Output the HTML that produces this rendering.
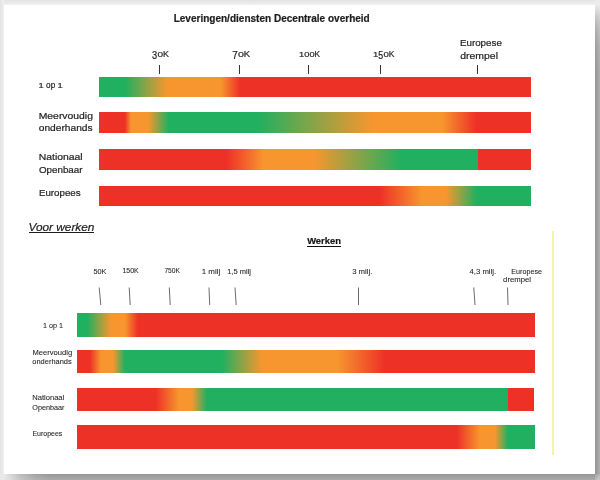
<!DOCTYPE html>
<html><head><meta charset="utf-8">
<style>
html,body{margin:0;padding:0;}
body{width:600px;height:480px;overflow:hidden;position:relative;background:#e9e9e9;font-family:"Liberation Sans",sans-serif;color:#2a2a2a;}
#st{position:absolute;left:0;top:0;width:600px;height:5px;background:linear-gradient(to bottom,#e3e3e3 0,#e9e9e9 50%,#f1f1f1 100%);}
#sl{position:absolute;left:0;top:0;width:4px;height:480px;background:linear-gradient(to right,#e3e3e3 0,#e9e9e9 50%,#f1f1f1 100%);}
#sr{position:absolute;left:594.8px;top:0;width:5.2px;height:480px;background:linear-gradient(to right,#939393 0,#afafaf 100%);}
#srm{position:absolute;left:594.8px;top:0;width:5.2px;height:480px;background:linear-gradient(to bottom,#ebebeb 0,#ebebeb 5px,rgba(235,235,235,0.85) 9px,rgba(235,235,235,0.5) 19px,rgba(235,235,235,0.25) 31px,rgba(235,235,235,0.09) 48px,rgba(235,235,235,0) 72px);}
#sb{position:absolute;left:0;top:473.8px;width:600px;height:6.2px;background:linear-gradient(to bottom,#969696 0,#a2a2a2 50%,#a9a9a9 100%);}
#sbm{position:absolute;left:0;top:473.8px;width:594.8px;height:6.2px;background:linear-gradient(to right,#e9e9e9 0,#e9e9e9 4px,rgba(233,233,233,0.8) 10px,rgba(233,233,233,0.45) 20px,rgba(233,233,233,0.15) 35px,rgba(233,233,233,0) 50px);}
#page{position:absolute;left:4px;top:4.8px;width:590.8px;height:469px;background:#fff;}
.bar{position:absolute;}
.t{position:absolute;white-space:nowrap;transform-origin:0 0;line-height:1;}
.tick{position:absolute;width:1.3px;background:#363636;}
svg{position:absolute;left:0;top:0;}
</style></head><body>
<div id="st"></div><div id="sl"></div>
<div id="sb"></div><div id="sbm"></div>
<div id="sr"></div><div id="srm"></div>
<div style="position:absolute;left:594.8px;top:473.8px;width:5.2px;height:6.2px;background:linear-gradient(135deg,#a0a0a0 0,#bdbdbd 60%,#c6c6c6 100%);"></div>
<div id="page"></div>

<div class="t" style="left:0;top:0;transform:translate(173.63px,12.78px) scaleX(0.9548);font-size:10.5px;font-weight:bold;color:#1c1c1c;">Leveringen/diensten Decentrale overheid</div>
<div class="t" style="left:0;top:0;transform:translate(152.04px,48.95px) scaleX(0.9276);font-size:9.6px;"><span class="od">3</span><span class="os">0</span>K</div>
<div class="t" style="left:0;top:0;transform:translate(232.17px,48.95px) scaleX(0.9879);font-size:9.6px;"><span class="od">7</span><span class="os">0</span>K</div>
<div class="t" style="left:0;top:0;transform:translate(299.09px,48.95px) scaleX(0.8546);font-size:9.6px;"><span class="os os3">100</span>K</div>
<div class="t" style="left:0;top:0;transform:translate(372.91px,48.95px) scaleX(0.8856);font-size:9.6px;"><span class="os">1</span><span class="od">5</span><span class="os">0</span>K</div>
<div class="t" style="left:0;top:0;transform:translate(459.96px,38.01px) scaleX(1.0192);font-size:9.6px;">Europese</div>
<div class="t" style="left:0;top:0;transform:translate(460.28px,50.92px) scaleX(1.0883);font-size:9.6px;">drempel</div>
<div class="t" style="left:0;top:0;transform:translate(38.58px,79.84px) scaleX(0.8547);font-size:9.6px;"><span class="os">1</span> op <span class="os">1</span></div>
<div class="t" style="left:0;top:0;transform:translate(38.69px,110.81px) scaleX(1.0822);font-size:9.6px;">Meervoudig</div>
<div class="t" style="left:0;top:0;transform:translate(38.74px,123.45px) scaleX(1.0639);font-size:9.6px;">onderhands</div>
<div class="t" style="left:0;top:0;transform:translate(38.71px,151.75px) scaleX(1.0837);font-size:9.6px;">Nationaal</div>
<div class="t" style="left:0;top:0;transform:translate(38.97px,164.60px) scaleX(1.0203);font-size:9.6px;">Openbaar</div>
<div class="t" style="left:0;top:0;transform:translate(38.91px,188.36px) scaleX(1.0147);font-size:9.6px;">Europees</div>
<div class="t" style="left:0;top:0;transform:translate(28.55px,221.55px) scaleX(1.0260);font-size:11.5px;font-style:italic;color:#1c1c1c;">Voor werken</div>
<div class="t" style="left:0;top:0;transform:translate(307.14px,237.25px) scaleX(1.0120);font-size:9.3px;font-weight:bold;color:#111;">Werken</div>
<div class="t s" style="left:0;top:0;transform:translate(93.44px,267.65px) scaleX(1.0499);">50K</div>
<div class="t s" style="left:0;top:0;transform:translate(122.47px,267.31px) scaleX(0.9937);">150K</div>
<div class="t s" style="left:0;top:0;transform:translate(164.41px,267.33px) scaleX(0.9538);">750K</div>
<div class="t s" style="left:0;top:0;transform:translate(201.72px,267.66px) scaleX(1.1356);">1 milj</div>
<div class="t s" style="left:0;top:0;transform:translate(227.34px,267.87px) scaleX(1.0664);">1,5 milj</div>
<div class="t s" style="left:0;top:0;transform:translate(352.14px,267.77px) scaleX(1.1097);">3 milj.</div>
<div class="t s" style="left:0;top:0;transform:translate(469.50px,267.64px) scaleX(1.1050);">4,3 milj.</div>
<div class="t s" style="left:0;top:0;transform:translate(511.33px,267.76px) scaleX(1.0217);">Europese</div>
<div class="t s" style="left:0;top:0;transform:translate(503.08px,276.45px) scaleX(1.1063);">drempel</div>
<div class="t s" style="left:0;top:0;transform:translate(43.09px,321.79px) scaleX(1.0275);">1 op 1</div>
<div class="t s" style="left:0;top:0;transform:translate(32.47px,348.91px) scaleX(1.0838);">Meervoudig</div>
<div class="t s" style="left:0;top:0;transform:translate(32.31px,358.07px) scaleX(1.0656);">onderhands</div>
<div class="t s" style="left:0;top:0;transform:translate(32.18px,393.57px) scaleX(1.0853);">Nationaal</div>
<div class="t s" style="left:0;top:0;transform:translate(32.33px,403.60px) scaleX(1.0338);">Openbaar</div>
<div class="t s" style="left:0;top:0;transform:translate(32.41px,430.45px) scaleX(0.9985);">Europees</div>
<div style="position:absolute;left:29.10px;top:231.85px;width:65.20px;height:0.90px;background:#1c1c1c;"></div>
<div style="position:absolute;left:306.70px;top:245.75px;width:34.35px;height:0.90px;background:#111;"></div>
<!-- top ticks -->
<div class="tick" style="left:158.7px;top:64.5px;height:9.3px;"></div>
<div class="tick" style="left:238.8px;top:64.5px;height:9.3px;"></div>
<div class="tick" style="left:308px;top:64.5px;height:9.3px;"></div>
<div class="tick" style="left:380px;top:64.5px;height:9.3px;"></div>
<div class="tick" style="left:476.5px;top:64.5px;height:9.3px;"></div>

<div class="bar" id="b1" style="left:99.2px;top:76.5px;width:431.6px;height:20px;"></div>
<div class="bar" id="b2" style="left:99.2px;top:112.3px;width:431.6px;height:20.7px;"></div>
<div class="bar" id="b3" style="left:99.2px;top:148.75px;width:431.6px;height:21.1px;"></div>
<div class="bar" id="b4" style="left:99.2px;top:186.2px;width:431.6px;height:20.1px;"></div>

<svg width="600" height="480" viewBox="0 0 600 480">
<g stroke="#505050" stroke-width="0.85" fill="none">
<line x1="99.2" y1="287.5" x2="100.8" y2="305"/>
<line x1="129.2" y1="287.5" x2="130.2" y2="305"/>
<line x1="169.3" y1="287.5" x2="170.2" y2="305"/>
<line x1="209" y1="287.5" x2="209.7" y2="305"/>
<line x1="235" y1="287.5" x2="236.2" y2="305"/>
<line x1="358.5" y1="287.5" x2="358.5" y2="305"/>
<line x1="473.8" y1="287.5" x2="475" y2="305"/>
<line x1="507.5" y1="287.5" x2="508" y2="305"/>
</g>
<rect x="552.2" y="231" width="1.7" height="224" fill="#f3f68c"/>
</svg>

<div class="bar" id="e1" style="left:76.8px;top:312.5px;width:458.2px;height:24.25px;"></div>
<div class="bar" id="e2" style="left:76.8px;top:349.5px;width:458.2px;height:23.75px;"></div>
<div class="bar" id="e3" style="left:76.8px;top:387.5px;width:457.5px;height:23.3px;"></div>
<div class="bar" id="e4" style="left:76.8px;top:425.1px;width:458.2px;height:23.7px;"></div>

<style>
.t{filter:blur(0.4px);color:#262626;-webkit-text-stroke:0.22px #262626;}
.s{font-size:7px;color:#262626;-webkit-text-stroke:0.08px #262626;}
.os{display:inline-block;font-size:8.1px;transform:scaleX(1.34);transform-origin:0 100%;margin-right:0.2em;-webkit-text-stroke:0.2px #262626;}
.os3{margin-right:0.57em;}
.od{position:relative;top:2px;font-size:10px;}
:root{--g:#20b060;--r:#ee3127;--o:#f7962e;}
#b1{background:linear-gradient(to right,var(--g) 0,var(--g) 26px,var(--o) 68px,var(--o) 122px,var(--r) 141px,var(--r) 100%);}
#b2{background:linear-gradient(to right,var(--r) 0,var(--r) 26px,var(--o) 32px,var(--o) 49px,var(--g) 70px,var(--g) 159px,var(--o) 274px,var(--o) 343px,var(--r) 377px,var(--r) 100%);}
#b3{background:linear-gradient(to right,var(--r) 0,var(--r) 128px,var(--o) 165px,var(--o) 215px,var(--g) 302px,var(--g) 378.8px,var(--r) 378.8px,var(--r) 100%);}
#b4{background:linear-gradient(to right,var(--r) 0,var(--r) 281px,var(--o) 323px,var(--o) 347px,var(--g) 378px,var(--g) 100%);}
#e1{background:linear-gradient(to right,var(--g) 0,var(--g) 10px,var(--o) 34px,var(--o) 48px,var(--r) 61px,var(--r) 100%);}
#e2{background:linear-gradient(to right,var(--r) 0,var(--r) 13px,var(--o) 24px,var(--o) 36px,var(--g) 48px,var(--g) 145px,var(--o) 185px,var(--o) 260px,var(--r) 308px,var(--r) 100%);}
#e3{background:linear-gradient(to right,var(--r) 0,var(--r) 79px,var(--o) 102px,var(--o) 115px,var(--g) 130px,var(--g) 430.7px,var(--r) 430.7px,var(--r) 100%);}
#e4{background:linear-gradient(to right,var(--r) 0,var(--r) 380px,var(--o) 403px,var(--o) 418px,var(--g) 431px,var(--g) 100%);}
</style>
</body></html>
